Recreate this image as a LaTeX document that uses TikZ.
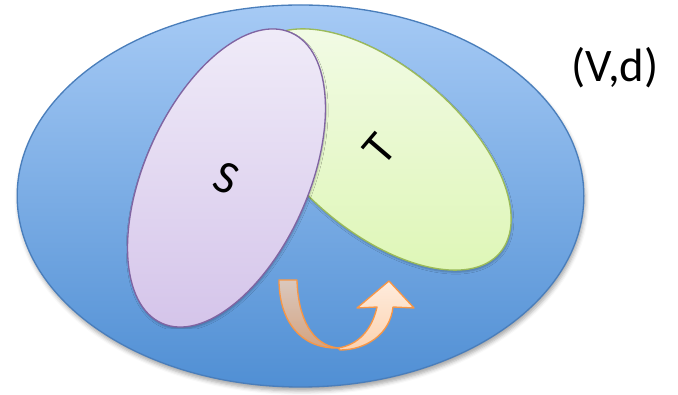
\documentclass[tikz,border=0pt]{standalone}
\usepackage{fontspec}
\setmainfont{Carlito}
\definecolor{spblue}{RGB}{74,126,187}
\definecolor{spbluetop}{RGB}{166,202,245}
\definecolor{spbluebot}{RGB}{80,143,212}
\definecolor{splilac}{RGB}{128,100,162}
\definecolor{splilactop}{RGB}{241,237,249}
\definecolor{splilacbot}{RGB}{213,197,234}
\definecolor{splime}{RGB}{155,187,89}
\definecolor{splimetop}{RGB}{243,251,232}
\definecolor{splimebot}{RGB}{221,246,180}
\definecolor{sporange}{RGB}{247,150,70}
\definecolor{sptantop}{RGB}{218,200,190}
\definecolor{sptanbot}{RGB}{212,163,128}
\definecolor{sppeachtop}{RGB}{254,236,221}
\definecolor{sppeachbot}{RGB}{252,210,176}
\usetikzlibrary{shapes.geometric,shadows.blur}

\begin{document}
\begin{tikzpicture}[x=0.75pt,y=0.75pt,
  setblob/.style={ellipse,line width=1pt,inner sep=0pt,
    minimum width=123pt,minimum height=238.5pt,font=\fontsize{35}{42}\selectfont,
    blur shadow={shadow xshift=0.5pt,shadow yshift=-1.5pt,shadow blur radius=1.5pt,shadow opacity=25}}]
  \useasboundingbox (0,0) rectangle (678,395);
  % the space (V,d)
  \node[ellipse,draw=spblue,line width=1pt,top color=spbluetop,bottom color=spbluebot,
        minimum width=425pt,minimum height=286.5pt,inner sep=0pt,
        blur shadow={shadow xshift=1pt,shadow yshift=-3pt,shadow blur radius=3pt,shadow opacity=35}]
        (space) at (300.5,199) {};
  \node[setblob,draw=splime,top color=splimetop,bottom color=splimebot,rotate=49.5]
        (setT) at (379,245.5) {T};
  \node[setblob,draw=splilac,top color=splilactop,bottom color=splilacbot,rotate=-24]
        (setS) at (226.5,217) {S};
  \node[font=\fontsize{35}{42}\selectfont] (vd) at (615,327) {(V,d)};
  % u-turn arrow: back face, then front face with head
  \draw[draw=sporange,line width=1pt,line join=round,top color=sptantop,bottom color=sptanbot]
    (279,115) -- (297,115) .. controls (298,77) and (312,50) .. (338,47)
    .. controls (300,46) and (279,75) .. (279,115) -- cycle;
  \draw[draw=sporange,line width=1pt,line join=round,top color=sppeachtop,bottom color=sppeachbot]
    (340,45) .. controls (365,45) and (390,60) .. (393,88) -- (414,87) -- (389,114)
    -- (357,87) -- (377,88) .. controls (372,65) and (358,50) .. (338,47) -- cycle;
\end{tikzpicture}
\end{document}
